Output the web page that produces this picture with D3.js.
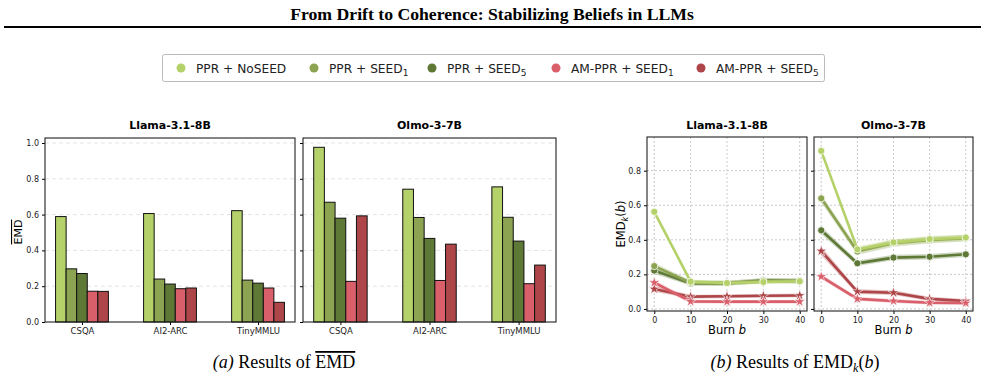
<!DOCTYPE html>
<html>
<head>
<meta charset="utf-8">
<script src="https://cdn.jsdelivr.net/npm/d3@7"></script>
<style>
  body { margin: 0; background: #fff; }
  svg text { font-family: "DejaVu Sans", sans-serif; }
</style>
</head>
<body>
<div id="chart"></div>
<script>
// data
const methods = ["PPR + NoSEED", "PPR + SEED1", "PPR + SEED5", "AM-PPR + SEED1", "AM-PPR + SEED5"];
const colors = ["#b5d16a", "#8ca352", "#5e7935", "#d95f6b", "#ae4649"];
const datasets = ["CSQA", "AI2-ARC", "TinyMMLU"];
const models = ["Llama-3.1-8B", "Olmo-3-7B"];

// mean EMD per dataset, one row per method
const llamaBars = [
  [0.589, 0.606, 0.622],
  [0.297, 0.240, 0.234],
  [0.271, 0.212, 0.217],
  [0.172, 0.186, 0.190],
  [0.171, 0.190, 0.110]
];
const olmoBars = [
  [0.976, 0.742, 0.755],
  [0.669, 0.584, 0.585],
  [0.580, 0.467, 0.452],
  [0.227, 0.232, 0.214],
  [0.593, 0.435, 0.318]
];

const burns = [0, 10, 20, 30, 40];
const llamaLines = [
  [0.562, 0.158, 0.150, 0.156, 0.160],
  [0.248, 0.152, 0.150, 0.162, 0.162],
  [0.222, 0.148, 0.148, 0.165, 0.162],
  [0.152, 0.043, 0.042, 0.042, 0.042],
  [0.115, 0.071, 0.073, 0.076, 0.078]
];
const olmoLines = [
  [0.915, 0.345, 0.385, 0.404, 0.413],
  [0.640, 0.332, 0.380, 0.398, 0.410],
  [0.455, 0.264, 0.297, 0.302, 0.316],
  [0.187, 0.058, 0.046, 0.036, 0.034],
  [0.335, 0.100, 0.094, 0.058, 0.046]
];
// spread of the shaded bands
const llamaSpread = [
  [0.008, 0.006, 0.006, 0.006, 0.006],
  [0.012, 0.008, 0.008, 0.008, 0.008],
  [0.012, 0.008, 0.008, 0.008, 0.008],
  [0.010, 0.004, 0.004, 0.004, 0.004],
  [0.010, 0.005, 0.005, 0.005, 0.005]
];
const olmoSpread = [
  [0.010, 0.012, 0.012, 0.012, 0.012],
  [0.018, 0.014, 0.014, 0.014, 0.014],
  [0.016, 0.010, 0.010, 0.010, 0.010],
  [0.008, 0.005, 0.005, 0.005, 0.005],
  [0.020, 0.008, 0.008, 0.006, 0.006]
];

const yTicksBar = [0, 0.2, 0.4, 0.6, 0.8, 1.0];
const yTicksLine = [0, 0.2, 0.4, 0.6, 0.8];

const W = 985, H = 381;
const svg = d3.select("#chart").append("svg").attr("width", W).attr("height", H);
const serif = "'Liberation Serif', 'Times New Roman', serif";

// title + rule
svg.append("text").attr("x", 492).attr("y", 20).attr("text-anchor", "middle")
  .style("font-family", serif)
  .style("font-weight", "bold").style("font-size", "17.7px")
  .text("From Drift to Coherence: Stabilizing Beliefs in LLMs");
svg.append("line").attr("x1", 4).attr("x2", 981).attr("y1", 27).attr("y2", 27)
  .attr("stroke", "#000").attr("stroke-width", 2);

// legend
const lg = svg.append("g");
lg.append("rect").attr("x", 162.5).attr("y", 54.5).attr("width", 662).attr("height", 27)
  .attr("rx", 2).attr("fill", "#fff").attr("stroke", "#bbb");
const legendX = [181, 314, 432, 556, 701];
methods.forEach((m, i) => {
  const g = lg.append("g").attr("transform", `translate(${legendX[i]},68)`);
  g.append("circle").attr("r", 4.5).attr("fill", colors[i]);
  const t = g.append("text").attr("x", 15).attr("y", 4.5).style("font-size", "12.2px").attr("fill", "#222");
  const sub = m.match(/SEED(\d)$/);
  if (sub) {
    t.append("tspan").text(m.slice(0, -1));
    t.append("tspan").attr("dy", 3).style("font-size", "9px").text(sub[1]);
  } else t.text(m);
});

// ---- bar panels ----
const barY = d3.scaleLinear().domain([0, 1.028]).range([322, 138]);
const barPanels = [
  { x0: 45, x1: 295, vals: llamaBars, name: models[0], labels: true },
  { x0: 303, x1: 556, vals: olmoBars, name: models[1], labels: false }
];
const bw = 0.12;

barPanels.forEach(p => {
  const x = d3.scaleLinear().domain([-0.42, 2.42]).range([p.x0, p.x1]);
  const g = svg.append("g");
  // grid
  g.selectAll(".grid").data(yTicksBar.slice(1)).join("line")
    .attr("x1", p.x0).attr("x2", p.x1).attr("y1", d => barY(d)).attr("y2", d => barY(d))
    .attr("stroke", "#ddd").attr("stroke-dasharray", "4,3").attr("stroke-width", 0.8);
  // bars
  p.vals.forEach((row, mi) => {
    g.selectAll(null).data(row).join("rect")
      .attr("x", (d, di) => x(di + (mi - 2) * bw - bw / 2))
      .attr("width", x(bw) - x(0))
      .attr("y", d => barY(d))
      .attr("height", d => barY(0) - barY(d))
      .attr("fill", colors[mi]).attr("stroke", "#111").attr("stroke-width", 1);
  });
  // axes
  const ya = d3.axisLeft(barY).tickValues(yTicksBar).tickSize(3)
    .tickFormat(p.labels ? d3.format(".1f") : "");
  g.append("g").attr("transform", `translate(${p.x0},0)`).call(ya)
    .call(a => a.select(".domain").remove())
    .call(a => a.selectAll("text").style("font-size", "8px").attr("fill", "#222"));
  const xa = d3.axisBottom(x).tickValues([0, 1, 2]).tickFormat(i => datasets[i]).tickSize(3);
  g.append("g").attr("transform", "translate(0,322)").call(xa)
    .call(a => a.select(".domain").remove())
    .call(a => a.selectAll("text").style("font-size", "8.5px").attr("fill", "#222"));
  g.append("rect").attr("x", p.x0).attr("y", 138).attr("width", p.x1 - p.x0).attr("height", 184)
    .attr("fill", "none").attr("stroke", "#222").attr("stroke-width", 1.1);
  g.append("text").attr("x", (p.x0 + p.x1) / 2).attr("y", 129).attr("text-anchor", "middle")
    .style("font-size", "11px").style("font-weight", "bold").text(p.name);
});
svg.append("text").attr("transform", "translate(22,232) rotate(-90)").attr("text-anchor", "middle")
  .style("font-size", "11px").style("text-decoration", "overline").text("EMD");

// ---- line panels ----
const lineY = d3.scaleLinear().domain([-0.012, 0.995]).range([311, 137]);
const linePanels = [
  { x0: 647, x1: 807, vals: llamaLines, sd: llamaSpread, name: models[0], labels: true },
  { x0: 814, x1: 973, vals: olmoLines, sd: olmoSpread, name: models[1], labels: false }
];
const star = d3.symbol().type(d3.symbolStar).size(38);

linePanels.forEach((p, pi) => {
  const x = d3.scaleLinear().domain([-2, 42]).range([p.x0, p.x1]);
  const g = svg.append("g");
  const clipId = "clip" + pi;
  g.append("clipPath").attr("id", clipId).append("rect")
    .attr("x", p.x0).attr("y", 137).attr("width", p.x1 - p.x0).attr("height", 174);
  g.selectAll(".gy").data(yTicksLine).join("line")
    .attr("x1", p.x0).attr("x2", p.x1).attr("y1", d => lineY(d)).attr("y2", d => lineY(d))
    .attr("stroke", "#bbb").attr("stroke-dasharray", "2,2").attr("stroke-width", 0.8);
  g.selectAll(".gx").data(burns).join("line")
    .attr("y1", 137).attr("y2", 311).attr("x1", d => x(d)).attr("x2", d => x(d))
    .attr("stroke", "#bbb").attr("stroke-dasharray", "2,2").attr("stroke-width", 0.8);

  const plot = g.append("g").attr("clip-path", `url(#${clipId})`);
  const area = d3.area().x((d, i) => x(burns[i]))
    .y0((d, i) => lineY(d[0] - d[1])).y1((d, i) => lineY(d[0] + d[1]));
  const line = d3.line().x((d, i) => x(burns[i])).y(d => lineY(d));
  // draw dark ones first so the light lines sit on top like the original
  [2, 1, 0, 4, 3].forEach(mi => {
    const row = p.vals[mi];
    plot.append("path").datum(row.map((v, i) => [v, p.sd[mi][i] + 0.006]))
      .attr("d", area).attr("fill", colors[mi]).attr("opacity", 0.3);
    plot.append("path").datum(row).attr("d", line)
      .attr("fill", "none").attr("stroke", colors[mi]).attr("stroke-width", 2.6);
    if (mi < 3) {
      plot.selectAll(null).data(row).join("circle")
        .attr("cx", (d, i) => x(burns[i])).attr("cy", d => lineY(d)).attr("r", 3.6)
        .attr("fill", colors[mi]).attr("stroke", "#fff").attr("stroke-width", 0.8);
    } else {
      plot.selectAll(null).data(row).join("path")
        .attr("transform", (d, i) => `translate(${x(burns[i])},${lineY(d)})`)
        .attr("d", star).attr("fill", colors[mi]).attr("stroke", "#fff").attr("stroke-width", 0.6);
    }
  });

  const ya = d3.axisLeft(lineY).tickValues(yTicksLine).tickSize(3)
    .tickFormat(p.labels ? d3.format(".1f") : "");
  g.append("g").attr("transform", `translate(${p.x0},0)`).call(ya)
    .call(a => a.select(".domain").remove())
    .call(a => a.selectAll("text").style("font-size", "8px").attr("fill", "#222"));
  const xa = d3.axisBottom(x).tickValues(burns).tickSize(3);
  g.append("g").attr("transform", "translate(0,311)").call(xa)
    .call(a => a.select(".domain").remove())
    .call(a => a.selectAll("text").style("font-size", "8px").attr("fill", "#222"));
  g.append("rect").attr("x", p.x0).attr("y", 137).attr("width", p.x1 - p.x0).attr("height", 174)
    .attr("fill", "none").attr("stroke", "#222").attr("stroke-width", 1.1);
  g.append("text").attr("x", (p.x0 + p.x1) / 2).attr("y", 129).attr("text-anchor", "middle")
    .style("font-size", "11px").style("font-weight", "bold").text(p.name);
  const xl = g.append("text").attr("x", (p.x0 + p.x1) / 2).attr("y", 334).attr("text-anchor", "middle")
    .style("font-size", "11.5px");
  xl.append("tspan").text("Burn ");
  xl.append("tspan").style("font-style", "italic").text("b");
});
const yl = svg.append("text").attr("transform", "translate(625,224) rotate(-90)").attr("text-anchor", "middle")
  .style("font-size", "11.5px");
yl.append("tspan").text("EMD");
yl.append("tspan").attr("dy", 2.5).style("font-size", "8px").style("font-style", "italic").text("k");
yl.append("tspan").attr("dy", -2.5).text("(");
yl.append("tspan").style("font-style", "italic").text("b");
yl.append("tspan").text(")");

// captions
const ca = svg.append("text").attr("x", 284).attr("y", 368).attr("text-anchor", "middle")
  .style("font-family", serif).style("font-size", "18px");
ca.append("tspan").style("font-style", "italic").style("font-family", serif).text("(a)");
ca.append("tspan").style("font-family", serif).text(" Results of ");
ca.append("tspan").style("font-family", serif).style("text-decoration", "overline").text("EMD");

const cb = svg.append("text").attr("x", 795).attr("y", 368).attr("text-anchor", "middle")
  .style("font-family", serif).style("font-size", "18px");
cb.append("tspan").style("font-style", "italic").style("font-family", serif).text("(b)");
cb.append("tspan").style("font-family", serif).text(" Results of EMD");
cb.append("tspan").attr("dy", 4).style("font-family", serif).style("font-style", "italic").style("font-size", "12px").text("k");
cb.append("tspan").attr("dy", -4).style("font-family", serif).text("(");
cb.append("tspan").style("font-family", serif).style("font-style", "italic").text("b");
cb.append("tspan").style("font-family", serif).text(")");
</script>
</body>
</html>
